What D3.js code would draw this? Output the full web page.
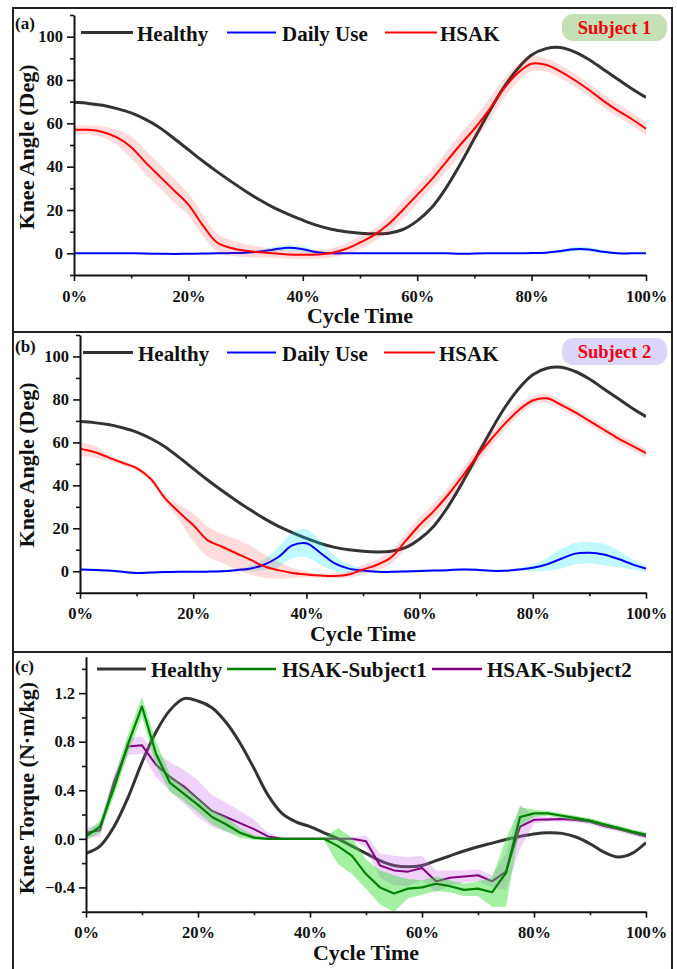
<!DOCTYPE html>
<html>
<head>
<meta charset="utf-8">
<script src="https://cdn.jsdelivr.net/npm/d3@7"></script>
<style>
  body { margin: 0; background: #fff; }
  svg { display: block; font-family: "Times New Roman", "Liberation Serif", serif; font-weight: bold; }
</style>
</head>
<body>
<div id="wrapper"></div>
<script>
// gait cycle (%) shared by every series
const cycle = [0,2.5,5,7.5,10,12.5,15,17.5,20,22.5,25,27.5,30,32.5,35,37.5,40,42.5,45,47.5,50,
  52.5,55,57.5,60,62.5,65,67.5,70,72.5,75,77.5,80,82.5,85,87.5,90,92.5,95,97.5,100]

// knee angle (deg)
const healthyAngle = [69.7,69.2,68.3,66.8,64.8,61.8,58,53,47.8,42.6,37.7,33.1,28.7,24.6,21,18,15.3,12.9,11.1,10,9.3,
  9,9.3,11,15,21,30,41,53,65,76,85,91.5,94.5,95,93,89.5,85,80.5,76,72]

const hsakAngleS1 = [57,57,56,53.5,49,42,35.5,29,22.5,13,5,2.5,1.2,0.5,0,-0.5,-0.6,-0.5,0.2,2,5,
  8.5,13.5,20,27,34,42,50,57.5,66,75.5,83,87.5,87,84,80,75.5,70.5,66,62,57.5]
const hsakAngleS1Sd = [2,2,2.5,3.5,5,5.5,5.5,5.5,5,5,4,3.5,3,2.5,2,2,2,2,2,2.5,3,
  3,3.5,4,4,4,4.5,5,5,5,4.5,4,3.5,3,3,3,3,3,3,3,3]

const dailyAngleS1 = [0,0,0,0,0,-0.1,-0.2,-0.3,-0.2,-0.1,0,0.1,0.3,0.8,1.8,2.6,1.9,0.5,0,0,0,
  0,0,0,0,0,0,-0.2,-0.1,0,0,0,0.1,0.3,1,1.9,1.8,0.7,0,0,0]
const dailyAngleS1Sd = [0.3,0.3,0.3,0.3,0.3,0.3,0.3,0.3,0.3,0.3,0.3,0.3,0.5,0.8,1.2,1.3,1.2,0.8,0.3,0.3,0.3,
  0.3,0.3,0.3,0.3,0.3,0.3,0.3,0.3,0.3,0.3,0.3,0.3,0.5,0.8,1,1,0.8,0.5,0.3,0.3]

const hsakAngleS2 = [57,55.5,53,50.5,48,43,34,27.5,21.5,14.5,11.5,8.5,5.5,2.3,0.5,-0.8,-1.5,-2,-2.2,-1.5,0.8,
  3,6.5,14,21.5,28,35.5,44,53,61,68.5,75,79.5,80.5,77.5,74,70,66,62,58.5,55]
const hsakAngleS2Lo = [53.5,53,51.5,49.5,47,41.5,32.5,24,14,7,4,1,-1.5,-3,-3.5,-3,-2.8,-3,-3.2,-3,-1.5,
  0.5,3.5,10.5,18,24.5,32,40.5,49.5,58,65.5,72.5,77.5,78.5,75.5,72,68,64,60,56.5,53]
const hsakAngleS2Hi = [60,58.5,54.5,51.5,49,44.5,36,31,27,21,17.5,15,12,8,4.5,1.5,-0.2,-1,-1,0,3,
  5.5,9.5,17.5,25,31.5,39,47.5,56.5,64,71.5,77.5,81.5,82.5,79.5,76,72,68,64,60.5,57]

const dailyAngleS2 = [0.8,0.6,0.3,-0.3,-0.8,-0.6,-0.4,-0.3,-0.3,-0.2,0,0.5,1.2,3,6.5,12,13,8.5,3.6,1.2,0.3,
  -0.2,-0.3,-0.1,0.1,0.3,0.5,0.8,0.7,0.2,0.2,0.8,1.6,3.2,5.8,8.2,8.6,7.8,5.8,3.3,1.2]
const dailyAngleS2Sd = [0.6,0.6,0.6,0.6,0.6,0.6,0.6,0.6,0.6,0.6,0.6,0.6,1.2,2.5,4.5,6,6.5,5.5,3.5,2,1,
  0.6,0.6,0.6,0.6,0.6,0.6,0.6,0.6,0.6,0.6,0.6,1.5,3,4.5,5,5,5,4,2.5,1.5]

// knee torque (N·m/kg)
const healthyTorque = [-0.12,-0.06,0.1,0.34,0.63,0.88,1.06,1.155,1.135,1.08,0.96,0.79,0.58,0.36,0.21,0.14,0.1,0.05,0,-0.06,-0.12,
  -0.18,-0.22,-0.23,-0.22,-0.18,-0.14,-0.1,-0.065,-0.035,-0.005,0.02,0.04,0.05,0.045,0.015,-0.04,-0.11,-0.15,-0.12,-0.03]

const torqueS1 = [0.02,0.1,0.42,0.78,1.09,0.7,0.46,0.37,0.28,0.18,0.12,0.05,0.01,0,0,0,0,0,-0.06,-0.14,-0.29,
  -0.4,-0.45,-0.41,-0.4,-0.37,-0.39,-0.42,-0.41,-0.44,-0.28,0.18,0.21,0.21,0.19,0.17,0.15,0.12,0.09,0.06,0.035]
const torqueS1Sd = [0.03,0.05,0.07,0.08,0.08,0.1,0.07,0.06,0.06,0.06,0.06,0.04,0.02,0.01,0.01,0.01,0.01,0.01,0.15,0.15,0.12,
  0.14,0.15,0.08,0.06,0.06,0.05,0.05,0.06,0.12,0.28,0.08,0.03,0.02,0.02,0.02,0.02,0.02,0.02,0.02,0.02]

const torqueS2 = [0.05,0.07,0.47,0.76,0.77,0.61,0.51,0.43,0.33,0.23,0.18,0.13,0.08,0.02,0,0,0,0,0,0,-0.02,
  -0.22,-0.26,-0.27,-0.24,-0.35,-0.32,-0.31,-0.3,-0.35,-0.27,0.1,0.157,0.16,0.163,0.155,0.14,0.105,0.08,0.05,0.02]
const torqueS2Sd = [0.04,0.05,0.06,0.07,0.07,0.1,0.12,0.14,0.15,0.13,0.12,0.1,0.08,0.03,0.01,0.01,0.01,0.01,0.01,0.01,0.05,
  0.1,0.12,0.12,0.1,0.09,0.06,0.05,0.05,0.05,0.15,0.18,0.03,0.02,0.02,0.02,0.02,0.02,0.02,0.02,0.02]

// ticks
const xMajor = [0,20,40,60,80,100]
const xMinor = [10,30,50,70,90]
const angleMajor = [0,20,40,60,80,100]
const angleMinor = [-10,10,30,50,70,90,110]
const torqueMajor = [-0.4,0,0.4,0.8,1.2]
const torqueMinor = [-0.6,-0.2,0.2,0.6,1.0,1.4]

const FONT = '"Times New Roman", "Liberation Serif", serif'

const minus = (v, sd) => v.map((d,i) => d - sd[i])
const plus = (v, sd) => v.map((d,i) => d + sd[i])

function drawFigure() {
  const wrapper = d3.select("#wrapper").append("svg")
      .attr("width", 677)
      .attr("height", 969)

  //outer frame and panel separators
  wrapper.append("rect")
      .attr("x", 13).attr("y", 8)
      .attr("width", 659).attr("height", 990)
      .attr("fill", "none").attr("stroke", "#222").attr("stroke-width", 2);
  [332, 652].forEach(y => {
    wrapper.append("line")
        .attr("x1", 13).attr("x2", 672).attr("y1", y).attr("y2", y)
        .attr("stroke", "#222").attr("stroke-width", 2)
  })

  function drawPanel(p) {
    const xScale = d3.scaleLinear().domain([0, 100]).range([p.left, p.right])
    const yScale = d3.scaleLinear().domain(p.yDomain).range([p.bottom, p.top])

    const g = wrapper.append("g")
    g.append("clipPath").attr("id", "clip-" + p.id)
      .append("rect")
        .attr("x", p.left).attr("y", p.top)
        .attr("width", p.right - p.left).attr("height", p.bottom - p.top)
    const plot = g.append("g").attr("clip-path", `url(#clip-${p.id})`)

    //draw data
    p.series.forEach(s => {
      if (s.lo) {
        const area = d3.area()
            .x((d,i) => xScale(cycle[i]))
            .y0((d,i) => yScale(s.lo[i]))
            .y1((d,i) => yScale(s.hi[i]))
            .curve(s.curve)
        plot.append("path").datum(s.values)
            .attr("d", area)
            .attr("fill", s.band)
            .attr("fill-opacity", s.bandOpacity)
      }
      const line = d3.line()
          .x((d,i) => xScale(cycle[i]))
          .y(d => yScale(d))
          .curve(s.curve)
      plot.append("path").datum(s.values)
          .attr("d", line)
          .attr("fill", "none")
          .attr("stroke", s.color)
          .attr("stroke-width", s.width)
          .attr("stroke-linejoin", "round")
    })

    //axes
    const xAxis = g.append("g")
        .attr("transform", `translate(0,${p.bottom})`)
        .call(d3.axisBottom(xScale).tickValues(xMajor).tickFormat(d => d + "%")
          .tickSize(6).tickSizeOuter(0).tickPadding(9))
    g.append("g")
        .attr("transform", `translate(0,${p.bottom})`)
        .call(d3.axisBottom(xScale).tickValues(xMinor).tickFormat("").tickSize(3.5).tickSizeOuter(0))
        .call(a => a.select(".domain").remove())

    const yAxis = g.append("g")
        .attr("transform", `translate(${p.left},0)`)
        .call(d3.axisLeft(yScale).tickValues(p.yMajor).tickFormat(p.yFormat)
          .tickSize(7).tickSizeOuter(0).tickPadding(4))
    g.append("g")
        .attr("transform", `translate(${p.left},0)`)
        .call(d3.axisLeft(yScale).tickValues(p.yMinor).tickFormat("").tickSize(4).tickSizeOuter(0))
        .call(a => a.select(".domain").remove())

    g.selectAll(".domain").attr("stroke", "#111").attr("stroke-width", 2)
    g.selectAll(".tick line").attr("stroke", "#111").attr("stroke-width", 1.6)
    g.selectAll(".tick text").attr("font-size", 16.5).attr("font-family", FONT)
        .attr("font-weight", "bold").attr("fill", "#111")
    xAxis.attr("font-family", FONT)
    yAxis.attr("font-family", FONT)

    //titles
    g.append("text")
        .attr("x", (p.left + p.right) / 2).attr("y", p.bottom + 48)
        .attr("text-anchor", "middle").attr("font-size", 22).attr("fill", "#111")
        .text("Cycle Time")
    g.append("text")
        .attr("transform", `translate(34,${p.yTitleY}) rotate(-90)`)
        .attr("text-anchor", "middle").attr("font-size", 22).attr("fill", "#111")
        .text(p.yTitle)

    //panel label
    g.append("text")
        .attr("x", 15).attr("y", p.labelY)
        .attr("font-size", 17).attr("fill", "#111")
        .text(p.label)

    //legend
    p.legend.forEach(l => {
      g.append("line")
          .attr("x1", l.x1).attr("x2", l.x2).attr("y1", p.legendY).attr("y2", p.legendY)
          .attr("stroke", l.color).attr("stroke-width", l.width)
      g.append("text")
          .attr("x", l.tx).attr("y", p.legendY + 8)
          .attr("font-size", 21).attr("fill", "#111")
          .text(l.label)
    })

    //subject badge
    if (p.badge) {
      g.append("rect")
          .attr("x", 562).attr("y", p.badge.y)
          .attr("width", 105).attr("height", 27)
          .attr("rx", 11)
          .attr("fill", p.badge.fill)
      g.append("text")
          .attr("x", 614.5).attr("y", p.badge.y + 19.5)
          .attr("text-anchor", "middle").attr("font-size", 18.5)
          .attr("fill", "#f00010")
          .text(p.badge.text)
    }
  }

  const smooth = d3.curveCatmullRom.alpha(0.5)

  drawPanel({
    id: "a", left: 74, right: 646, top: 15, bottom: 275,
    yDomain: [-10, 110], yMajor: angleMajor, yMinor: angleMinor, yFormat: d3.format("d"),
    yTitle: "Knee Angle (Deg)", yTitleY: 147, label: "(a)", labelY: 29,
    legendY: 32.5,
    legend: [
      {label: "Healthy", color: "#333", width: 3, x1: 81, x2: 133, tx: 137},
      {label: "Daily Use", color: "#0000ff", width: 2, x1: 227, x2: 276, tx: 282},
      {label: "HSAK", color: "#ff0000", width: 2, x1: 385, x2: 437, tx: 440}
    ],
    badge: {y: 14, fill: "#c5e0b4", text: "Subject 1"},
    series: [
      {values: healthyAngle, color: "#333", width: 3, curve: smooth},
      {values: dailyAngleS1, lo: minus(dailyAngleS1, dailyAngleS1Sd), hi: plus(dailyAngleS1, dailyAngleS1Sd),
        band: "#00e5ff", bandOpacity: 0.25, color: "#0000ff", width: 2, curve: smooth},
      {values: hsakAngleS1, lo: minus(hsakAngleS1, hsakAngleS1Sd), hi: plus(hsakAngleS1, hsakAngleS1Sd),
        band: "#ff0000", bandOpacity: 0.14, color: "#ff0000", width: 2, curve: smooth}
    ]
  })

  drawPanel({
    id: "b", left: 80, right: 646, top: 335, bottom: 592.7,
    yDomain: [-10, 110], yMajor: angleMajor, yMinor: angleMinor, yFormat: d3.format("d"),
    yTitle: "Knee Angle (Deg)", yTitleY: 465, label: "(b)", labelY: 352,
    legendY: 352.5,
    legend: [
      {label: "Healthy", color: "#333", width: 3, x1: 83, x2: 133, tx: 138},
      {label: "Daily Use", color: "#0000ff", width: 2, x1: 227, x2: 276, tx: 282},
      {label: "HSAK", color: "#ff0000", width: 2, x1: 384, x2: 435, tx: 439}
    ],
    badge: {y: 338, fill: "#dcd5fa", text: "Subject 2"},
    series: [
      {values: healthyAngle, color: "#333", width: 3, curve: smooth},
      {values: dailyAngleS2, lo: minus(dailyAngleS2, dailyAngleS2Sd), hi: plus(dailyAngleS2, dailyAngleS2Sd),
        band: "#00e5ff", bandOpacity: 0.25, color: "#0000ff", width: 2, curve: smooth},
      {values: hsakAngleS2, lo: hsakAngleS2Lo, hi: hsakAngleS2Hi,
        band: "#ff0000", bandOpacity: 0.14, color: "#ff0000", width: 2, curve: smooth}
    ]
  })

  drawPanel({
    id: "c", left: 86, right: 646, top: 656.7, bottom: 911.7,
    yDomain: [-0.6, 1.5], yMajor: torqueMajor, yMinor: torqueMinor, yFormat: d3.format(".1f"),
    yTitle: "Knee Torque (N·m/kg)", yTitleY: 788, label: "(c)", labelY: 672,
    legendY: 669,
    legend: [
      {label: "Healthy", color: "#333", width: 3, x1: 97, x2: 146, tx: 151},
      {label: "HSAK-Subject1", color: "#008000", width: 2.5, x1: 227, x2: 276, tx: 282},
      {label: "HSAK-Subject2", color: "#800080", width: 2.5, x1: 432, x2: 482, tx: 487}
    ],
    series: [
      {values: healthyTorque, color: "#333", width: 3, curve: smooth},
      {values: torqueS2, lo: minus(torqueS2, torqueS2Sd), hi: plus(torqueS2, torqueS2Sd),
        band: "#cc66ee", bandOpacity: 0.3, color: "#800080", width: 2, curve: d3.curveLinear},
      {values: torqueS1, lo: minus(torqueS1, torqueS1Sd), hi: plus(torqueS1, torqueS1Sd),
        band: "#33dd33", bandOpacity: 0.45, color: "#008000", width: 2.2, curve: d3.curveLinear}
    ]
  })
}
drawFigure()
</script>
</body>
</html>
